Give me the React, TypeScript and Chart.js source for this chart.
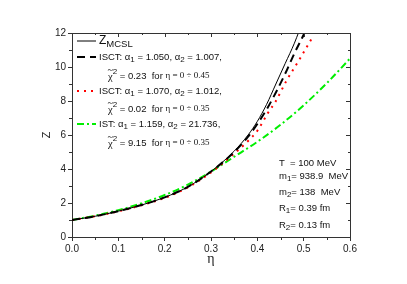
import React, { useEffect, useRef } from 'react';
import { Chart, registerables } from 'chart.js';

Chart.register(...registerables);

// ---- data ----
const etaMCSL = [0, 0.05, 0.1, 0.15, 0.2, 0.25, 0.3, 0.35, 0.38, 0.4, 0.42, 0.44, 0.46, 0.48, 0.49];
const zMCSL = [1.0, 1.22, 1.52, 1.88, 2.33, 2.95, 3.85, 5.05, 6.0, 6.8, 7.8, 9.0, 10.2, 11.4, 12.1];

const etaISCT1 = [0, 0.05, 0.1, 0.15, 0.2, 0.25, 0.3, 0.35, 0.38, 0.4, 0.42, 0.44, 0.46, 0.48, 0.5, 0.51];
const zISCT1 = [1.0, 1.22, 1.52, 1.88, 2.33, 2.95, 3.85, 5.0, 5.9, 6.65, 7.5, 8.5, 9.6, 10.8, 11.9, 12.5];

const etaISCT2 = [0, 0.05, 0.1, 0.15, 0.2, 0.25, 0.3, 0.35, 0.38, 0.4, 0.423, 0.44, 0.463, 0.49, 0.52];
const zISCT2 = [1.0, 1.22, 1.51, 1.87, 2.3, 2.92, 3.8, 4.9, 5.65, 6.25, 7.3, 8.0, 9.2, 10.4, 11.8];

const etaIST = [0, 0.05, 0.1, 0.15, 0.2, 0.25, 0.3, 0.35, 0.4, 0.45, 0.5, 0.55, 0.6];
const zIST = [1.0, 1.26, 1.58, 1.98, 2.47, 3.08, 3.85, 4.72, 5.6, 6.6, 7.75, 9.05, 10.5];

const xMajorTicks = [0, 0.1, 0.2, 0.3, 0.4, 0.5, 0.6];
const xMinorTicks = [0.05, 0.15, 0.25, 0.35, 0.45, 0.55];
const yMajorTicks = [0, 2, 4, 6, 8, 10, 12];
const yMinorTicks = [1, 3, 5, 7, 9, 11];

const SANS = "'Liberation Sans', Arial, sans-serif";
const SERIF = "'Liberation Serif', 'Times New Roman', serif";

type Seg = { t: string; size: number; family?: string; dy?: number; tilde?: boolean };

function drawRich(ctx: CanvasRenderingContext2D, x: number, y: number, segs: Seg[]) {
  let cx = x;
  for (const s of segs) {
    ctx.font = `${s.size}px ${s.family || SANS}`;
    const dy = s.dy || 0;
    ctx.fillText(s.t, cx, y + dy);
    const w = ctx.measureText(s.t).width;
    if (s.tilde) {
      ctx.save();
      ctx.font = `${s.size}px ${SERIF}`;
      ctx.textAlign = 'center';
      ctx.fillText('~', cx + w / 2, y + dy - 7);
      ctx.restore();
    }
    cx += w;
  }
}

const decorPlugin = {
  id: 'decor',
  afterDraw(chart: any) {
    const ctx: CanvasRenderingContext2D = chart.ctx;
    const { left, right, top, bottom } = chart.chartArea;
    const xs = chart.scales.x;
    const ys = chart.scales.y;
    ctx.save();
    // frame top/right
    ctx.strokeStyle = '#333';
    ctx.lineWidth = 1;
    ctx.beginPath();
    ctx.moveTo(left, top + 0.5);
    ctx.lineTo(right + 0.5, top + 0.5);
    ctx.lineTo(right + 0.5, bottom);
    ctx.stroke();
    // ticks
    ctx.beginPath();
    for (const v of xMinorTicks) {
      const px = Math.round(xs.getPixelForValue(v)) + 0.5;
      ctx.moveTo(px, bottom);
      ctx.lineTo(px, bottom + 3);
      ctx.moveTo(px, top);
      ctx.lineTo(px, top + 2);
    }
    for (const v of xMajorTicks) {
      const px = Math.round(xs.getPixelForValue(v)) + 0.5;
      ctx.moveTo(px, top);
      ctx.lineTo(px, top + 4);
    }
    for (const v of yMinorTicks) {
      const py = Math.round(ys.getPixelForValue(v)) + 0.5;
      ctx.moveTo(left, py);
      ctx.lineTo(left - 3, py);
      ctx.moveTo(right, py);
      ctx.lineTo(right - 2, py);
    }
    for (const v of yMajorTicks) {
      const py = Math.round(ys.getPixelForValue(v)) + 0.5;
      ctx.moveTo(right, py);
      ctx.lineTo(right - 4, py);
    }
    ctx.stroke();

    // legend
    ctx.fillStyle = '#111';
    ctx.textBaseline = 'middle';
    const lx0 = left + 5;
    const lx1 = left + 24;
    const drawSample = (y: number, color: string, width: number, dash: number[]) => {
      ctx.save();
      ctx.strokeStyle = color;
      ctx.lineWidth = width;
      ctx.setLineDash(dash);
      ctx.beginPath();
      ctx.moveTo(lx0, y);
      ctx.lineTo(lx1, y);
      ctx.stroke();
      ctx.restore();
    };
    const tx = left + 27;
    const tx2 = left + 36;
    drawSample(41, '#000', 1, []);
    drawRich(ctx, tx, 41, [
      { t: 'Z', size: 12 },
      { t: 'MCSL', size: 9.5, dy: 3 },
    ]);
    const line1 = (y: number, lab: string, a1: string, a2: string) =>
      drawRich(ctx, tx, y, [
        { t: lab + ': \u03b1', size: 9.5 },
        { t: '1', size: 8, dy: 3 },
        { t: ' = ' + a1 + ', \u03b1', size: 9.5 },
        { t: '2', size: 8, dy: 3 },
        { t: ' = ' + a2 + ',', size: 9.5 },
      ]);
    const line2 = (y: number, chi: string, range: string) =>
      drawRich(ctx, tx2, y, [
        { t: '\u03c7', size: 10.5, family: SERIF, tilde: true, dy: 1 },
        { t: '2', size: 8, dy: -4 },
        { t: ' = ' + chi + '  for ', size: 9.5 },
        { t: '\u03b7 = 0 \u00f7 ' + range, size: 9, family: SERIF },
      ]);
    drawSample(57, '#000', 2, [8, 5]);
    line1(57, 'ISCT', '1.050', '1.007');
    line2(76, '0.23', '0.45');
    drawSample(91, '#ff0000', 2, [2, 5]);
    line1(91, 'ISCT', '1.070', '1.012');
    line2(109, '0.02', '0.35');
    drawSample(124, '#00ee00', 2, [7, 3, 2, 3]);
    line1(124, 'IST', '1.159', '21.736');
    line2(143, '9.15', '0.35');

    // parameters
    const ax = 279;
    drawRich(ctx, ax, 163, [{ t: 'T  = 100 MeV', size: 9.5 }]);
    drawRich(ctx, ax, 176, [
      { t: 'm', size: 9.5 },
      { t: '1', size: 8, dy: 3 },
      { t: '= 938.9  MeV', size: 9.5 },
    ]);
    drawRich(ctx, ax, 192, [
      { t: 'm', size: 9.5 },
      { t: '2', size: 8, dy: 3 },
      { t: '= 138  MeV', size: 9.5 },
    ]);
    drawRich(ctx, ax, 208, [
      { t: 'R', size: 9.5 },
      { t: '1', size: 8, dy: 3 },
      { t: '= 0.39 fm', size: 9.5 },
    ]);
    drawRich(ctx, ax, 225, [
      { t: 'R', size: 9.5 },
      { t: '2', size: 8, dy: 3 },
      { t: '= 0.13 fm', size: 9.5 },
    ]);
    ctx.restore();
  },
};

function pts(xs: number[], ys: number[]) {
  return xs.map((x, i) => ({ x, y: ys[i] }));
}

export default function App() {
  const ref = useRef<HTMLCanvasElement>(null);
  useEffect(() => {
    document.body.style.margin = '0';
    const canvas = ref.current!;
    const chart = new Chart(canvas, {
      type: 'line',
      data: {
        datasets: [
          {
            label: 'Z_MCSL',
            data: pts(etaMCSL, zMCSL),
            borderColor: '#000',
            borderWidth: 1,
            pointRadius: 0,
            cubicInterpolationMode: 'monotone',
          },
          {
            label: 'ISCT 1',
            data: pts(etaISCT1, zISCT1),
            borderColor: '#000',
            borderWidth: 2,
            borderDash: [8, 5],
            pointRadius: 0,
            cubicInterpolationMode: 'monotone',
          },
          {
            label: 'ISCT 2',
            data: pts(etaISCT2, zISCT2),
            borderColor: '#ff0000',
            borderWidth: 2,
            borderDash: [2, 5],
            pointRadius: 0,
            cubicInterpolationMode: 'monotone',
          },
          {
            label: 'IST',
            data: pts(etaIST, zIST),
            borderColor: '#00ee00',
            borderWidth: 2,
            borderDash: [7, 3, 2, 3],
            pointRadius: 0,
            cubicInterpolationMode: 'monotone',
          },
        ],
      },
      options: {
        responsive: false,
        animation: false,
        devicePixelRatio: 1,
        layout: { padding: { left: 0, right: 57, top: 33, bottom: 0 } },
        plugins: { legend: { display: false }, tooltip: { enabled: false } },
        scales: {
          x: {
            type: 'linear',
            min: 0,
            max: 0.6,
            afterFit: (s: any) => {
              s.height = 47;
            },
            afterBuildTicks: (s: any) => {
              s.ticks = xMajorTicks.map((v) => ({ value: v }));
            },
            ticks: {
              callback: (v: any) => Number(v).toFixed(1),
              font: { family: SANS, size: 10 },
              color: '#222',
              padding: 2,
              maxRotation: 0,
              autoSkip: false,
            },
            grid: { drawOnChartArea: false, tickLength: 4, color: '#333' },
            border: { color: '#333', width: 1 },
            title: {
              display: true,
              text: '\u03b7',
              font: { family: SERIF, size: 14 },
              color: '#222',
              padding: { top: 0, bottom: 16 },
            },
          },
          y: {
            type: 'linear',
            min: 0,
            max: 12,
            afterFit: (s: any) => {
              s.width = 72;
            },
            afterBuildTicks: (s: any) => {
              s.ticks = yMajorTicks.map((v) => ({ value: v }));
            },
            ticks: {
              callback: (v: any) => String(v),
              font: { family: SANS, size: 10 },
              color: '#222',
              padding: 2,
              autoSkip: false,
            },
            grid: { drawOnChartArea: false, tickLength: 4, color: '#333' },
            border: { color: '#333', width: 1 },
            title: {
              display: true,
              text: 'Z',
              font: { family: SANS, size: 11 },
              color: '#222',
              padding: { top: 40, bottom: 0 },
            },
          },
        },
      },
      plugins: [decorPlugin],
    } as any);
    return () => chart.destroy();
  }, []);
  return (
    <div style={{ position: 'absolute', left: 0, top: 0, width: 407, height: 284, background: '#fff' }}>
      <canvas ref={ref} width={407} height={284} />
    </div>
  );
}
